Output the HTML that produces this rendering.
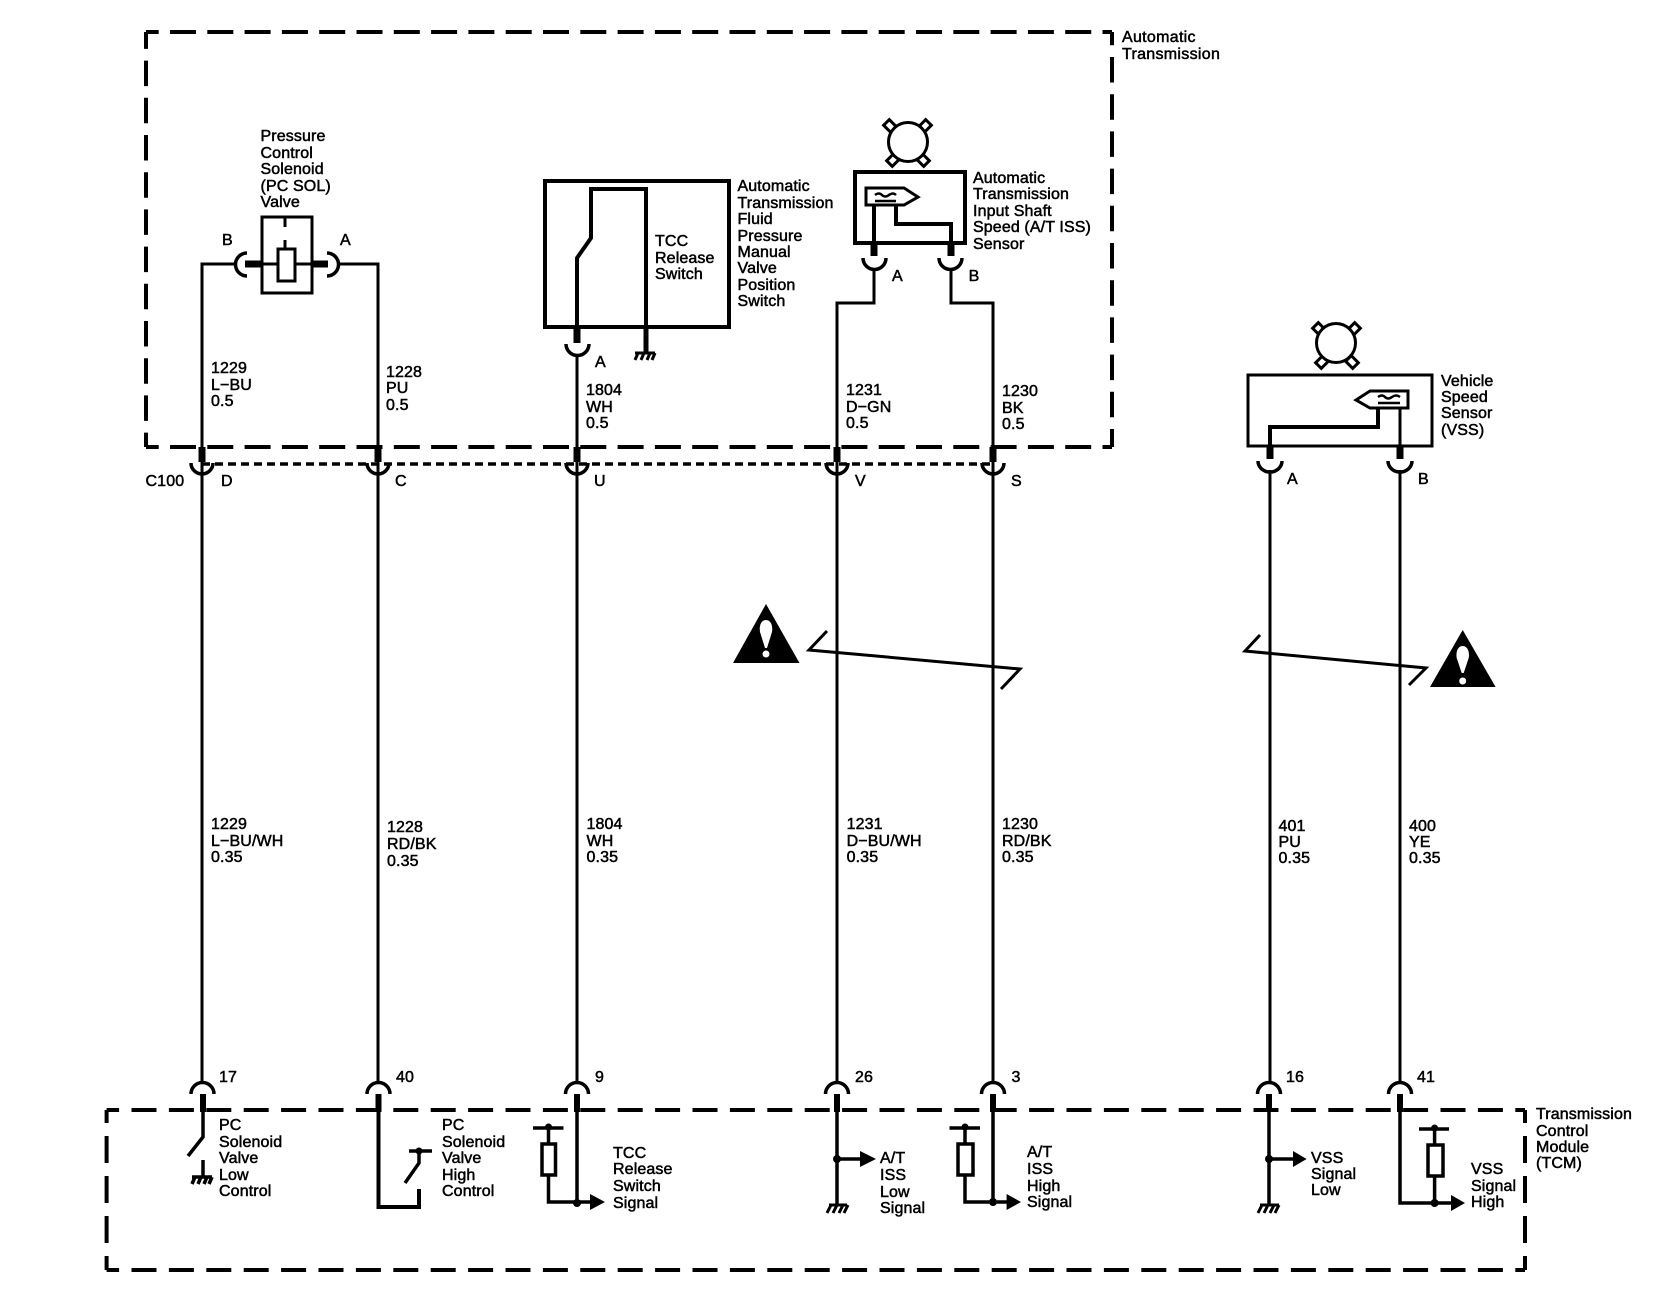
<!DOCTYPE html>
<html><head><meta charset="utf-8"><style>
html,body{margin:0;padding:0;background:#fff}
svg{display:block}
text{font-family:"Liberation Sans",Arial,sans-serif;font-size:16px;fill:#000;stroke:#000;stroke-width:.5px;letter-spacing:.12px}
.w{fill:none;stroke:#000;stroke-width:3;stroke-linejoin:miter}
.s{fill:none;stroke:#000;stroke-width:7}
.c{fill:none;stroke:#000;stroke-width:3.5}
.k{fill:none;stroke:#000;stroke-width:4}
.l{fill:#fff;stroke:#000;stroke-width:3}
</style></head><body>
<svg width="1662" height="1312" viewBox="0 0 1662 1312" xmlns="http://www.w3.org/2000/svg">
<rect width="1662" height="1312" fill="#fff"/>

<!-- top frame -->
<path class="k" d="M146 32H1112" stroke-dasharray="26 11.3" stroke-dashoffset="13.3"/>
<path class="k" d="M146 447H1112" stroke-dasharray="26 11.3" stroke-dashoffset="13.3"/>
<path class="k" d="M146 32V447" stroke-dasharray="25.5 11.7" stroke-dashoffset="8.6"/>
<path class="k" d="M1112 32V447" stroke-dasharray="25.5 11.7" stroke-dashoffset="12.2"/>
<!-- C100 dotted -->
<path d="M202 464H993" fill="none" stroke="#000" stroke-width="3.5" stroke-dasharray="8 5"/>

<!-- bottom frame -->
<path class="k" d="M106.6 1110H1525" stroke-dasharray="25 12.4" stroke-dashoffset="12.5"/>
<path class="k" d="M106.6 1270H1525" stroke-dasharray="25 12.4" stroke-dashoffset="12.5"/>
<path class="k" d="M106.6 1110V1270" stroke-dasharray="27 13" stroke-dashoffset="14"/>
<path class="k" d="M1525 1110V1270" stroke-dasharray="27 13" stroke-dashoffset="14"/>

<!-- long wires -->
<path class="w" d="M235 264H202V1083"/>
<path class="w" d="M339 264H378V1083"/>
<path class="w" d="M577 354V1083"/>
<path class="w" d="M874 268V303H837V1083"/>
<path class="w" d="M951 268V303H993V1083"/>
<path class="w" d="M1270 470V1083"/>
<path class="w" d="M1400 470V1083"/>

<!-- C100 stubs and cups -->
<path class="s" d="M202 447V462M378 447V462M577 447V462M837 447V462M993 447V462"/>
<path class="c" d="M191 463A11 11 0 0 0 213 463M367 463A11 11 0 0 0 389 463M566 463A11 11 0 0 0 588 463M826 463A11 11 0 0 0 848 463M982 463A11 11 0 0 0 1004 463"/>

<!-- bottom cups/stubs -->
<path class="c" d="M191 1094A11.5 11.5 0 0 1 214 1094M367 1094A11.5 11.5 0 0 1 390 1094M565.5 1094A11.5 11.5 0 0 1 588.5 1094M825.5 1094A11.5 11.5 0 0 1 848.5 1094M981.5 1094A11.5 11.5 0 0 1 1004.5 1094M1257.5 1094A11.5 11.5 0 0 1 1280.5 1094M1388.5 1094A11.5 11.5 0 0 1 1411.5 1094"/>
<path fill="none" stroke="#000" stroke-width="6" d="M203 1094V1112M378.5 1094V1112M577 1094V1112M837 1094V1112M993 1094V1112M1269 1094V1112M1400 1094V1112"/>

<!-- PC SOL valve -->
<rect x="262" y="217" width="50" height="76" class="w"/>
<rect x="278" y="249" width="17" height="32" class="w"/>
<path class="w" d="M285 217V227M285 240V249M262 264H278M295 264H312"/>
<path class="s" d="M245 264H262M312 264H328"/>
<path class="c" d="M247 253A11.5 11.5 0 0 0 247 276M327 253A11.5 11.5 0 0 1 327 276"/>

<!-- switch box -->
<rect x="545" y="181" width="184" height="146" class="k"/>
<path class="w" style="stroke-width:4" d="M577 327V258L591 238V189H646V327"/>
<path fill="none" stroke="#000" stroke-width="5" d="M646 327V352"/>
<path class="s" d="M577 327V343"/>
<path class="c" d="M566 344A11.5 11.5 0 0 0 589 344"/>
<path fill="none" stroke="#000" stroke-width="3" d="M635 353H655M638 353L635 360M644 353L641 360M650 353L647 360M655 353L652 360"/>

<!-- ISS sensor -->
<rect x="855" y="172" width="110" height="71" fill="none" stroke="#000" stroke-width="4"/>
<path class="w" d="M866 188H904L918 197L904 205H866Z"/>
<path class="w" style="stroke-width:4" d="M874 205V243M896 205V224H951V243"/>
<path fill="none" stroke="#000" stroke-width="2.5" d="M875 195Q879 192 882 195T889 195T896 195M875 201H896"/>
<path class="s" d="M874 243V256M951 243V256"/>
<path class="c" d="M863 258A11.5 11.5 0 0 0 886 258M939 258A11.5 11.5 0 0 0 962 258"/>
<!-- mount 1 -->
<rect x="-4" y="-5" width="8" height="10" transform="translate(890 126) rotate(-45)" class="l"/>
<rect x="-4" y="-5" width="8" height="10" transform="translate(925 126) rotate(45)" class="l"/>
<rect x="-4" y="-5" width="8" height="10" transform="translate(893 160) rotate(45)" class="l"/>
<rect x="-4" y="-5" width="8" height="10" transform="translate(923 160) rotate(-45)" class="l"/>
<circle cx="908" cy="142" r="19.5" class="l"/>

<!-- VSS sensor -->
<rect x="1248" y="375" width="184" height="71" class="w"/>
<path class="w" d="M1408 391H1370L1356 400L1370 408H1408Z"/>
<path class="w" d="M1400 408V446"/>
<path class="w" style="stroke-width:4" d="M1378 408V427H1270V446"/>
<path fill="none" stroke="#000" stroke-width="2.5" d="M1378 397Q1382 394 1385 397T1392 397T1400 397M1378 403H1400"/>
<path class="s" d="M1270 446V459M1400 446V459"/>
<path class="c" d="M1258 461A12 11 0 0 0 1282 461M1388 461A12 11 0 0 0 1412 461"/>
<rect x="-4" y="-5" width="8" height="10" transform="translate(1319 329) rotate(-45)" class="l"/>
<rect x="-4" y="-5" width="8" height="10" transform="translate(1354 329) rotate(45)" class="l"/>
<rect x="-4" y="-5" width="8" height="10" transform="translate(1322 362) rotate(45)" class="l"/>
<rect x="-4" y="-5" width="8" height="10" transform="translate(1352 362) rotate(-45)" class="l"/>
<circle cx="1336" cy="343" r="19.5" class="l"/>

<!-- zigzags -->
<path fill="none" stroke="#000" stroke-width="3" d="M827 631L809 650L1020 669L1001 689"/>
<path fill="none" stroke="#000" stroke-width="3" d="M1260 635L1245 651L1426 668L1409 685"/>

<!-- triangles -->
<path d="M766 604L799.5 663H733Z" fill="#000"/>
<path d="M766 620C771 620 773 626 772 632L767 648H765L760 632C759 626 761 620 766 620Z" fill="#fff"/>
<circle cx="766" cy="654" r="3.5" fill="#fff"/>
<path d="M1462.7 630L1495.6 687H1430Z" fill="#000"/>
<path d="M1462.7 646C1467.7 646 1469.7 652 1468.7 658L1463.7 673H1461.7L1456.7 658C1455.7 652 1457.7 646 1462.7 646Z" fill="#fff"/>
<circle cx="1462.7" cy="681" r="3.5" fill="#fff"/>

<!-- TCM internals -->
<path fill="none" stroke="#000" stroke-width="3.5" d="M203 1112V1137L188 1156M203 1160V1177M192 1177H212M195 1177L192 1184M201 1177L198 1184M207 1177L204 1184M212 1177L209 1184"/>
<path class="w" style="stroke-width:4" d="M378.5 1110V1207H419V1189"/>
<path fill="none" stroke="#000" stroke-width="3.5" d="M405 1183L419 1163V1151M409 1151H432"/>
<circle cx="419" cy="1151" r="3.5"/>

<path class="w" style="stroke-width:3.5" d="M577 1110V1203"/>
<path fill="none" stroke="#000" stroke-width="3.5" d="M533 1128H563.5M548.5 1128V1144M548.5 1175V1202H592"/>
<circle cx="548.5" cy="1127" r="3.5"/><circle cx="577" cy="1203" r="4"/>
<rect x="542" y="1144" width="13.5" height="31" class="l" style="stroke-width:3.5"/>
<path d="M590 1194L605 1202L590 1210Z"/>

<path class="w" style="stroke-width:3.5" d="M837 1110V1205"/>
<path fill="none" stroke="#000" stroke-width="3.5" d="M837 1159H862"/>
<circle cx="837" cy="1159" r="4"/>
<path d="M860 1151L876 1159L860 1167Z"/>
<path fill="none" stroke="#000" stroke-width="3" d="M829 1205H847M831 1205L827 1213M837 1205L833 1213M843 1205L839 1213M848 1205L844 1213"/>

<path class="w" style="stroke-width:3.5" d="M993 1110V1203"/>
<path fill="none" stroke="#000" stroke-width="3.5" d="M949.5 1128H980M965 1128V1144M965 1175V1202H1008"/>
<circle cx="965" cy="1127" r="3.5"/><circle cx="993" cy="1202" r="4"/>
<rect x="958" y="1144" width="15" height="31" class="l" style="stroke-width:3.5"/>
<path d="M1006.6 1194L1021 1202L1006.6 1210Z"/>

<path class="w" style="stroke-width:3.5" d="M1269 1110V1205"/>
<path fill="none" stroke="#000" stroke-width="3.5" d="M1269 1159H1295"/>
<circle cx="1269" cy="1159" r="4"/>
<path d="M1293 1151L1306.6 1159L1293 1167Z"/>
<path fill="none" stroke="#000" stroke-width="3" d="M1260 1205H1279M1262 1205L1258 1213M1268 1205L1264 1213M1274 1205L1270 1213M1279 1205L1275 1213"/>

<path class="w" style="stroke-width:3.5" d="M1400 1110V1203H1453"/>
<path fill="none" stroke="#000" stroke-width="3.5" d="M1419 1129H1449M1434.6 1129V1145M1434.6 1176V1203"/>
<circle cx="1434.6" cy="1128" r="3.5"/><circle cx="1434.6" cy="1203" r="4"/>
<rect x="1428" y="1145" width="15" height="31" class="l" style="stroke-width:3.5"/>
<path d="M1451 1195L1465 1203L1451 1211Z"/>

<!-- labels -->
<text x="1122" y="42" style="letter-spacing:.3px">Automatic</text><text x="1122" y="59" style="letter-spacing:.3px">Transmission</text>
<text x="260.5" y="141">Pressure</text><text x="260.5" y="158">Control</text><text x="260.5" y="174">Solenoid</text><text x="260.5" y="191">(PC SOL)</text><text x="260.5" y="207">Valve</text>
<text x="222" y="245">B</text><text x="340" y="245">A</text>
<text x="211" y="373">1229</text><text x="211" y="390">L−BU</text><text x="211" y="406">0.5</text>
<text x="386" y="377">1228</text><text x="386" y="393">PU</text><text x="386" y="410">0.5</text>
<text x="586" y="395">1804</text><text x="586" y="412">WH</text><text x="586" y="428">0.5</text>
<text x="595" y="367">A</text>
<text x="655" y="246">TCC</text><text x="655" y="263">Release</text><text x="655" y="279">Switch</text>
<text x="737.5" y="191">Automatic</text><text x="737.5" y="208">Transmission</text><text x="737.5" y="224">Fluid</text><text x="737.5" y="241">Pressure</text><text x="737.5" y="257">Manual</text><text x="737.5" y="273">Valve</text><text x="737.5" y="290">Position</text><text x="737.5" y="306">Switch</text>
<text x="973" y="183">Automatic</text><text x="973" y="199">Transmission</text><text x="973" y="216">Input Shaft</text><text x="973" y="232">Speed (A/T ISS)</text><text x="973" y="249">Sensor</text>
<text x="892" y="281">A</text><text x="968.6" y="281">B</text>
<text x="846" y="395">1231</text><text x="846" y="412">D−GN</text><text x="846" y="428">0.5</text>
<text x="1002" y="396">1230</text><text x="1002" y="413">BK</text><text x="1002" y="429">0.5</text>
<text x="1441" y="386">Vehicle</text><text x="1441" y="402">Speed</text><text x="1441" y="418">Sensor</text><text x="1441" y="435">(VSS)</text>

<text x="145.5" y="486">C100</text><text x="221" y="486">D</text><text x="395" y="486">C</text><text x="594" y="486">U</text><text x="855" y="486">V</text><text x="1011" y="486">S</text><text x="1287" y="484">A</text><text x="1418" y="484">B</text>

<text x="211" y="829">1229</text><text x="211" y="846">L−BU/WH</text><text x="211" y="862">0.35</text>
<text x="387" y="832">1228</text><text x="387" y="849">RD/BK</text><text x="387" y="866">0.35</text>
<text x="586.5" y="829">1804</text><text x="586.5" y="846">WH</text><text x="586.5" y="862">0.35</text>
<text x="846.6" y="829">1231</text><text x="846.6" y="846">D−BU/WH</text><text x="846.6" y="862">0.35</text>
<text x="1002" y="829">1230</text><text x="1002" y="846">RD/BK</text><text x="1002" y="862">0.35</text>
<text x="1278.5" y="831">401</text><text x="1278.5" y="847">PU</text><text x="1278.5" y="863">0.35</text>
<text x="1409" y="831">400</text><text x="1409" y="847">YE</text><text x="1409" y="863">0.35</text>

<text x="219" y="1082">17</text><text x="396" y="1082">40</text><text x="595" y="1082">9</text><text x="855" y="1082">26</text><text x="1011.5" y="1082">3</text><text x="1286" y="1082">16</text><text x="1417" y="1082">41</text>

<text x="219" y="1130">PC</text><text x="219" y="1147">Solenoid</text><text x="219" y="1163">Valve</text><text x="219" y="1180">Low</text><text x="219" y="1196">Control</text>
<text x="442" y="1130">PC</text><text x="442" y="1147">Solenoid</text><text x="442" y="1163">Valve</text><text x="442" y="1180">High</text><text x="442" y="1196">Control</text>
<text x="613" y="1158">TCC</text><text x="613" y="1174">Release</text><text x="613" y="1191">Switch</text><text x="613" y="1208">Signal</text>
<text x="880" y="1163">A/T</text><text x="880" y="1180">ISS</text><text x="880" y="1197">Low</text><text x="880" y="1213">Signal</text>
<text x="1027" y="1157">A/T</text><text x="1027" y="1174">ISS</text><text x="1027" y="1191">High</text><text x="1027" y="1207">Signal</text>
<text x="1311" y="1163">VSS</text><text x="1311" y="1179">Signal</text><text x="1311" y="1195">Low</text>
<text x="1471" y="1174">VSS</text><text x="1471" y="1191">Signal</text><text x="1471" y="1207">High</text>
<text x="1536" y="1119">Transmission</text><text x="1536" y="1136">Control</text><text x="1536" y="1152">Module</text><text x="1536" y="1168">(TCM)</text>
</svg>
</body></html>
